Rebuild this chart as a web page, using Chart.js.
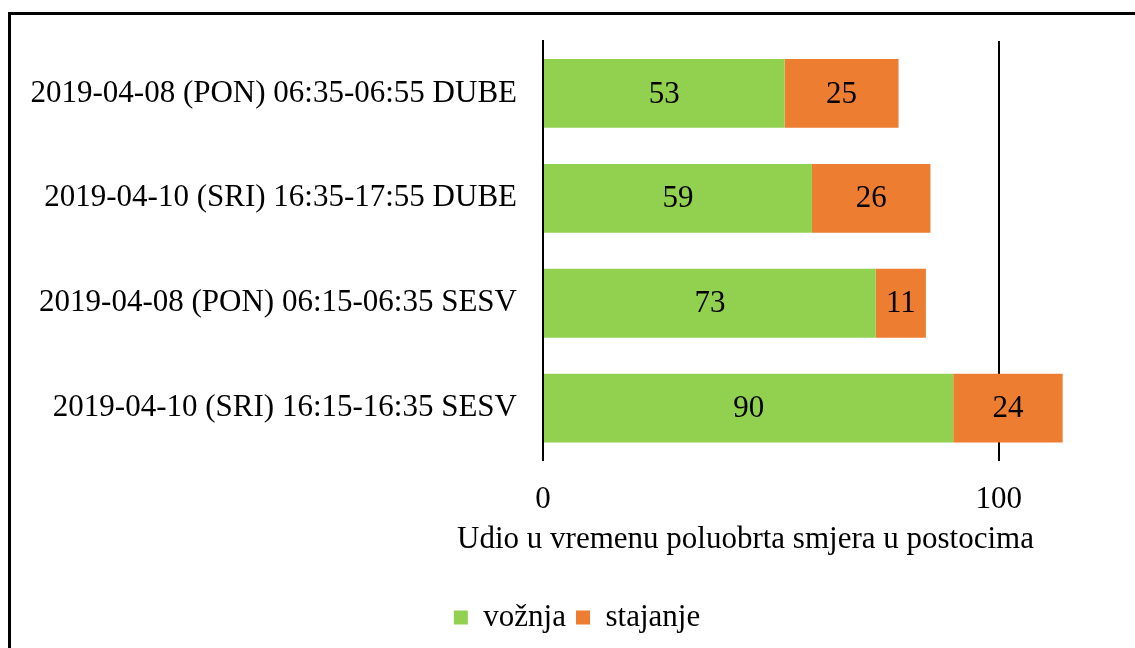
<!DOCTYPE html>
<html>
<head>
<meta charset="utf-8">
<script src="https://cdn.jsdelivr.net/npm/chart.js@4/dist/chart.umd.min.js"></script>
<style>
  html, body { margin: 0; padding: 0; background: #fff; }
  #wrap { position: relative; width: 1135px; height: 648px; overflow: hidden; }
  #frame { position: absolute; left: 8px; top: 12px; width: 1200px; height: 700px;
           border-left: 3px solid #000; border-top: 3px solid #000; }
  #c { position: absolute; left: 0; top: 0; }
</style>
</head>
<body>
<div id="wrap">
  <div id="frame"></div>
  <canvas id="c" width="1135" height="648"></canvas>
</div>
<script>
const categories = [
  "2019-04-08 (PON) 06:35-06:55 DUBE",
  "2019-04-10 (SRI) 16:35-17:55 DUBE",
  "2019-04-08 (PON) 06:15-06:35 SESV",
  "2019-04-10 (SRI) 16:15-16:35 SESV"
];
const voznja = [53, 59, 73, 90];
const stajanje = [25, 26, 11, 24];
const seriesNames = ["vožnja", "stajanje"];
const xTicks = [0, 100];
const axisTitle = "Udio u vremenu poluobrta smjera u postocima";

const FONT = "'Liberation Serif', 'DejaVu Serif', serif";
const FS = 31;

const valueLabels = {
  id: 'valueLabels',
  afterDatasetsDraw(chart) {
    const ctx = chart.ctx;
    ctx.save();
    ctx.font = FS + 'px ' + FONT;
    ctx.fillStyle = '#000';
    ctx.textAlign = 'center';
    ctx.textBaseline = 'middle';
    chart.data.datasets.forEach((ds, i) => {
      const meta = chart.getDatasetMeta(i);
      meta.data.forEach((el, j) => {
        const p = el.getCenterPoint();
        ctx.fillText(String(ds.data[j]), p.x, p.y + 1);
      });
    });
    ctx.restore();
  }
};

const axisTitleText = {
  id: 'axisTitleText',
  afterLayout(chart) {
    if (chart.legend) { chart.legend.left += 32; chart.legend.right += 32; }
  },
  afterDraw(chart) {
    const ctx = chart.ctx, a = chart.chartArea;
    ctx.save();
    ctx.font = FS + 'px ' + FONT;
    ctx.fillStyle = '#000';
    ctx.textAlign = 'center';
    ctx.textBaseline = 'middle';
    ctx.fillText(axisTitle, (a.left + a.right) / 2 - 71, a.bottom + 79);
    ctx.restore();
  }
};

new Chart(document.getElementById('c'), {
  type: 'bar',
  data: {
    labels: categories,
    datasets: [
      { label: seriesNames[0], data: voznja, backgroundColor: '#92D050',
        categoryPercentage: 0.8, barPercentage: 0.82 },
      { label: seriesNames[1], data: stajanje, backgroundColor: '#ED7D31',
        categoryPercentage: 0.8, barPercentage: 0.82 }
    ]
  },
  options: {
    indexAxis: 'y',
    responsive: false,
    animation: false,
    devicePixelRatio: 1,
    layout: { padding: { left: 0, top: 41, right: 45, bottom: 5 } },
    scales: {
      x: {
        stacked: true,
        min: 0, max: 120,
        afterBuildTicks(scale) { scale.ticks = xTicks.map(v => ({ value: v })); },
        grid: { display: true, color: '#000', lineWidth: 2, drawTicks: false },
        border: { display: false },
        ticks: { color: '#000', font: { family: FONT, size: FS }, padding: 21 },
        title: { display: true, text: axisTitle, color: 'rgba(0,0,0,0)',
                 font: { family: FONT, size: FS }, padding: { top: 2, bottom: 13 } }
      },
      y: {
        stacked: true,
        afterFit(scale) { scale.width = 543; scale.paddingTop = 0; scale.paddingBottom = 0; },
        grid: { display: false, drawTicks: false },
        border: { display: true, color: '#000', width: 2 },
        ticks: { color: '#000', font: { family: FONT, size: FS }, padding: 26 }
      }
    },
    plugins: {
      legend: {
        position: 'bottom',
        labels: { color: '#000', font: { family: FONT, size: FS },
                  boxWidth: 14, boxHeight: 14, padding: 10 }
      },
      tooltip: { enabled: false }
    }
  },
  plugins: [valueLabels, axisTitleText]
});
</script>
</body>
</html>
